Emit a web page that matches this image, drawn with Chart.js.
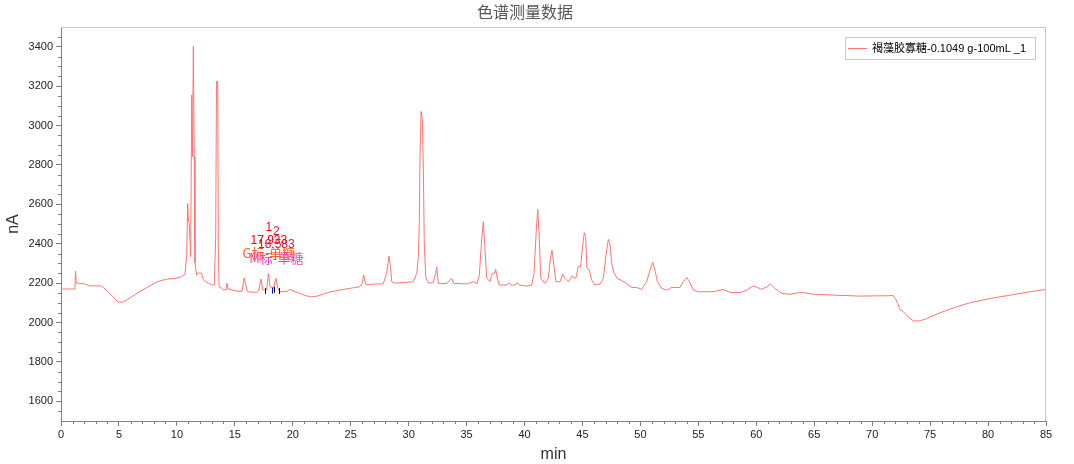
<!DOCTYPE html>
<html>
<head>
<meta charset="utf-8">
<style>
  html, body { margin: 0; padding: 0; background: #fff; }
  #wrap { width: 1074px; height: 464px; }
</style>
<script src="https://cdn.jsdelivr.net/npm/chart.js@4.4.1/dist/chart.umd.min.js"></script>
</head>
<body>
<div id="wrap"><canvas id="chart" width="1074" height="464"></canvas></div>
<script>
// 色谱数据
const seriesName = "褐藻胶寡糖-0.1049 g-100mL _1";
const times = [
  0, 1.2, 1.25, 1.32, 1.6, 2.0, 2.5, 3.4, 3.6, 4.2, 4.9, 5.3, 5.75, 6.9, 7.8, 8.3, 9.1, 9.85, 10.4, 10.7,
  10.85, 10.93, 11.0, 11.07, 11.19, 11.28, 11.35, 11.42, 11.5, 11.56, 11.71, 11.85, 11.93, 12.14, 12.28, 12.57, 12.71, 13.0, 13.23, 13.35,
  13.42, 13.52, 13.58, 13.64, 13.87, 14.0, 14.25, 14.3, 14.44, 15.16, 15.62, 15.8, 15.95, 16.08, 16.9, 17.05, 17.26, 17.42, 17.75, 17.9,
  18.03, 18.32, 18.55, 18.7, 18.9, 19.5, 19.76, 20.1, 20.45, 21.0, 21.6, 22.2, 23.0, 24.0, 25.0, 25.8, 26.0, 26.12, 26.3, 27.0,
  27.8, 28.1, 28.3, 28.45, 28.54, 28.8, 30.4, 30.7, 30.84, 30.92, 30.98, 31.07, 31.18, 31.27, 31.35, 31.47, 31.7, 32.1, 32.34, 32.42,
  32.56, 33.28, 33.7, 33.9, 35.1, 35.58, 35.9, 36.1, 36.3, 36.44, 36.59, 36.74, 37.02, 37.22, 37.4, 37.51, 37.65, 37.82, 38.46, 38.66,
  38.85, 39.18, 39.38, 39.55, 40.2, 40.62, 40.82, 41.0, 41.14, 41.25, 41.4, 41.77, 42.05, 42.26, 42.37, 42.55, 42.72, 43.06, 43.29, 43.49,
  43.78, 44.12, 44.27, 44.44, 44.64, 44.84, 45.0, 45.16, 45.27, 45.39, 45.59, 45.8, 46.08, 46.5, 46.8, 47.03, 47.23, 47.38, 47.52, 47.72,
  48.0, 48.4, 48.8, 49.25, 49.68, 50.11, 50.54, 50.83, 51.06, 51.26, 51.46, 51.84, 52.27, 52.7, 53.42, 53.7, 54.0, 54.23, 54.56, 55.0,
  56.3, 57.15, 57.73, 58.6, 59.17, 59.69, 60.1, 60.47, 60.9, 61.24, 61.6, 62.2, 62.9, 63.9, 64.9, 66.65, 68.95, 71.5, 71.8, 72.0,
  72.2, 72.4, 72.7, 73.1, 73.55, 74.1, 74.7, 75.85, 77.0, 78.4, 80.2, 81.9, 83.6, 85.0
];
const signal = [
  2170, 2170, 2262, 2200, 2198, 2196, 2186, 2186, 2181, 2148, 2105, 2102, 2117, 2161, 2190, 2207, 2220, 2224, 2232, 2245,
  2342, 2605, 2520, 2503, 2334, 3156, 2842, 3402, 2842, 2302, 2240, 2250, 2252, 2248, 2218, 2203, 2198, 2192, 2190, 2435,
  3224, 3224, 2384, 2181, 2173, 2166, 2166, 2200, 2170, 2159, 2158, 2226, 2190, 2156, 2153, 2160, 2221, 2165, 2165, 2250,
  2183, 2173, 2225, 2173, 2156, 2158, 2168, 2158, 2152, 2138, 2130, 2135, 2152, 2164, 2174, 2182, 2200, 2242, 2192, 2195,
  2196, 2249, 2337, 2276, 2207, 2200, 2207, 2249, 2334, 2503, 2834, 3071, 3029, 2775, 2402, 2232, 2201, 2201, 2249, 2283,
  2198, 2198, 2224, 2198, 2196, 2207, 2197, 2241, 2419, 2512, 2368, 2224, 2207, 2249, 2249, 2271, 2224, 2190, 2190, 2201,
  2190, 2190, 2203, 2190, 2185, 2190, 2249, 2453, 2575, 2461, 2224, 2198, 2224, 2334, 2368, 2283, 2207, 2207, 2244, 2224,
  2207, 2237, 2224, 2227, 2283, 2283, 2385, 2456, 2436, 2275, 2266, 2215, 2190, 2195, 2224, 2342, 2422, 2395, 2300, 2252,
  2224, 2212, 2198, 2178, 2178, 2168, 2207, 2266, 2305, 2266, 2207, 2173, 2164, 2178, 2178, 2207, 2229, 2207, 2164, 2156,
  2156, 2168, 2153, 2151, 2164, 2185, 2178, 2168, 2181, 2195, 2173, 2148, 2143, 2153, 2144, 2139, 2134, 2136, 2138, 2122,
  2096, 2066, 2054, 2029, 2008, 2008, 2020, 2049, 2074, 2100, 2122, 2139, 2156, 2168
];
const xTicks = [0, 5, 10, 15, 20, 25, 30, 35, 40, 45, 50, 55, 60, 65, 70, 75, 80, 85];
const yTicks = [1600, 1800, 2000, 2200, 2400, 2600, 2800, 3000, 3200, 3400];

// 峰标注
const peakTimes = [17.933, 18.583];
const peakHeights = [2250, 2225];
const peakNums = ["1", "2"];
const peakNames = ["G标-单糖", "M标-单糖"];
const peakColors = [["#ff0000", "#ff0000", "#ff5a28"], ["#e8103c", "#e8103c", "#ff3cc8"]];

// 积分起止标记
const markTimes = [17.62, 18.22, 18.36, 18.82];
const markValues = [2160, 2162, 2166, 2160];
const markColors = ["#0000ff", "#0000ff", "#000000", "#000000"];

const LINE = "#ff7474";
const TICK_FONT = { family: "'Liberation Sans', Arial, sans-serif", size: 11 };

const decor = {
  id: "decor",
  afterDraw(chart) {
    const { ctx, chartArea: a, scales: { x, y } } = chart;
    ctx.save();

    // 标题
    ctx.fillStyle = "#555";
    ctx.font = "16px 'Noto Sans CJK SC', sans-serif";
    ctx.textAlign = "center";
    ctx.textBaseline = "middle";
    ctx.fillText("色谱测量数据", chart.width / 2 - 12, 12);

    // 上、右边框
    ctx.strokeStyle = "#c8c8c8";
    ctx.lineWidth = 1;
    ctx.beginPath();
    ctx.moveTo(a.left, a.top + 0.5); ctx.lineTo(a.right - 0.5, a.top + 0.5);
    ctx.lineTo(a.right - 0.5, a.bottom);
    ctx.stroke();

    // 次刻度
    ctx.strokeStyle = "#808080";
    ctx.beginPath();
    for (let v = 0; v <= 85; v++) {
      if (v % 5 === 0) continue;
      const px = Math.round(x.getPixelForValue(v)) + 0.5;
      ctx.moveTo(px, a.bottom); ctx.lineTo(px, a.bottom + 3);
    }
    for (let v = 1550; v <= 3450; v += 50) {
      if (v % 200 === 0) continue;
      const py = Math.round(y.getPixelForValue(v)) + 0.5;
      ctx.moveTo(a.left - 3, py); ctx.lineTo(a.left, py);
    }
    ctx.stroke();

    // 积分标记
    markTimes.forEach((t, i) => {
      const px = Math.round(x.getPixelForValue(t)) + 0.5;
      const py = y.getPixelForValue(markValues[i]);
      ctx.strokeStyle = markColors[i];
      ctx.beginPath();
      ctx.moveTo(px, py - 3); ctx.lineTo(px, py + 3);
      ctx.stroke();
    });

    // 峰标注文字
    peakTimes.forEach((t, i) => {
      const px = x.getPixelForValue(t);
      const py = y.getPixelForValue(peakHeights[i]);
      const lines = [peakNums[i], t.toFixed(3), peakNames[i]];
      const offs = [-46, -33, -20];
      lines.forEach((s, j) => {
        ctx.font = j === 2 ? "13px 'Noto Sans CJK SC', sans-serif" : "12px 'Liberation Sans', sans-serif";
        ctx.fillStyle = peakColors[i][j];
        ctx.fillText(s, px, py + offs[j]);
      });
    });

    // 图例
    const lx = a.right - 201, ly = a.top + 10;
    ctx.strokeStyle = "#c8c8c8";
    ctx.strokeRect(lx + 0.5, ly + 0.5, 190, 22);
    ctx.strokeStyle = LINE;
    ctx.beginPath();
    ctx.moveTo(lx + 3, ly + 11.5); ctx.lineTo(lx + 22, ly + 11.5);
    ctx.stroke();
    ctx.fillStyle = "#000";
    ctx.textAlign = "left";
    ctx.font = "11px 'Liberation Sans', 'Noto Sans CJK SC', sans-serif";
    ctx.fillText(seriesName, lx + 27, ly + 11.5);

    ctx.restore();
  }
};

new Chart(document.getElementById("chart"), {
  type: "line",
  data: {
    datasets: [{
      label: seriesName,
      data: times.map((t, i) => ({ x: t, y: signal[i] })),
      borderColor: LINE,
      borderWidth: 1,
      pointRadius: 0,
      tension: 0,
      fill: false
    }]
  },
  options: {
    responsive: false,
    animation: false,
    devicePixelRatio: 1,
    layout: { padding: { left: 0, right: 28, top: 27, bottom: 0 } },
    plugins: {
      legend: { display: false },
      title: { display: false },
      tooltip: { enabled: false }
    },
    scales: {
      x: {
        type: "linear",
        min: 0, max: 85,
        afterFit: (s) => { s.height = 43; },
        afterBuildTicks: (s) => { s.ticks = xTicks.map((v) => ({ value: v })); },
        grid: { drawOnChartArea: false, drawTicks: true, tickLength: 5, tickColor: "#808080" },
        border: { display: true, color: "#808080" },
        ticks: { font: TICK_FONT, color: "#222", padding: 2, maxRotation: 0, callback: (v) => String(v) },
        title: { display: true, text: "min", font: { family: "'Liberation Sans', sans-serif", size: 16 }, color: "#333", padding: { top: 0, bottom: 0 } }
      },
      y: {
        min: 1500, max: 3500,
        afterFit: (s) => { s.width = 61; },
        afterBuildTicks: (s) => { s.ticks = yTicks.map((v) => ({ value: v })); },
        grid: { drawOnChartArea: false, drawTicks: true, tickLength: 5, tickColor: "#808080" },
        border: { display: true, color: "#808080" },
        ticks: { font: TICK_FONT, color: "#222", padding: 3, callback: (v) => String(v) },
        title: { display: true, text: "nA", font: { family: "'Liberation Sans', sans-serif", size: 16 }, color: "#333", padding: { top: 4, bottom: 0 } }
      }
    }
  },
  plugins: [decor]
});
</script>
</body>
</html>
